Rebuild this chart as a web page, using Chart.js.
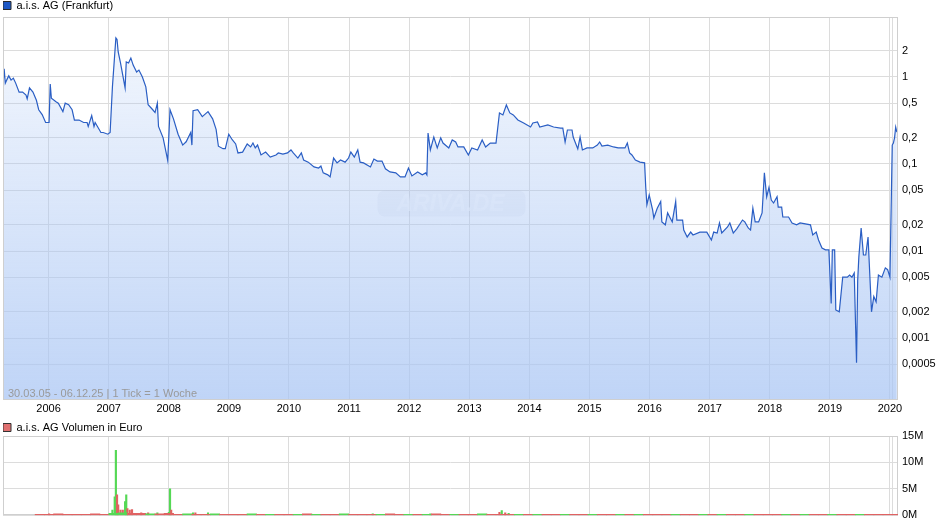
<!doctype html>
<html lang="de">
  <head>
    <meta charset="utf-8">
    <title>a.i.s. AG (Frankfurt)</title>
    <style>
      body { margin: 0; background: #fff; }
      #priceBox { position: absolute; left: 0; top: 0; width: 940px; height: 416px; }
      #volBox { position: absolute; left: 0; top: 422px; width: 940px; height: 104px; }
    </style>
  </head>
  <body>
    <div id="priceBox"><canvas id="priceChart"></canvas></div>
    <div id="volBox"><canvas id="volChart"></canvas></div>

    <script src="https://cdn.jsdelivr.net/npm/chart.js"></script>
    <script>
      // x axis = week index since 30.03.05 (1 Tick = 1 Woche)
      const weeks = [0,1,2,4,5,7,9,11,14,17,20,21,23,26,29,31,34,37,40,41,42,46,48,52,54,57,60,62,66,70,
        73,74,77,79,80,82,85,87,91,93,95,98,99,100,102,106,107,109,111,113,116,118,121,124,126,130,132,134,135,139,
        143,145,148,152,156,159,163,164,165,169,173,178,182,185,187,191,193,196,199,202,204,208,212,215,217,219,221,224,228,232,
        237,239,243,247,250,252,256,259,261,265,270,274,276,278,282,284,287,290,293,297,300,302,305,308,310,313,319,322,325,329,
        332,336,341,345,349,352,355,360,364,367,368,369,371,374,377,380,382,387,390,393,395,400,404,407,412,416,419,423,428,431,
        434,437,440,443,447,452,458,460,464,466,473,478,484,486,488,490,494,495,499,501,503,507,512,516,518,520,525,530,534,540,
        542,544,546,549,553,557,558,559,561,564,565,568,571,572,575,577,581,584,585,590,591,594,597,599,605,611,615,617,620,622,
        624,629,631,634,637,642,644,647,649,651,653,656,659,661,663,665,667,669,672,673,676,677,682,685,689,692,701,703,706,708,
        711,714,717,719,720,722,723,726,729,733,735,737,739,741,742,743,745,747,749,751,754,756,758,760,763,766,768,770,772,773,
        774,775,776];
      const prices = [0.81,1.24,0.85,0.97,1.03,0.92,0.97,0.85,0.67,0.67,0.62,0.56,0.75,0.67,0.54,0.42,0.37,0.30,0.30,0.83,
        0.57,0.52,0.50,0.40,0.50,0.48,0.42,0.32,0.32,0.30,0.30,0.27,0.36,0.27,0.30,0.27,0.23,0.23,0.22,0.23,
        0.77,2.81,2.7,1.94,1.45,0.75,1.49,1.45,1.65,1.37,1.14,1.20,1.0,0.77,0.48,0.42,0.39,0.50,0.27,0.20,
        0.11,0.42,0.33,0.22,0.165,0.18,0.23,0.165,0.41,0.42,0.35,0.40,0.33,0.25,0.16,0.15,0.15,0.22,0.19,0.17,
        0.134,0.137,0.17,0.157,0.174,0.153,0.165,0.127,0.137,0.12,0.127,0.134,0.13,0.134,0.145,0.134,0.117,0.134,0.111,0.105,
        0.0925,0.09,0.095,0.079,0.075,0.071,0.117,0.103,0.111,0.105,0.117,0.137,0.12,0.145,0.105,0.103,0.0925,0.114,0.108,0.108,
        0.088,0.081,0.079,0.071,0.071,0.09,0.073,0.081,0.075,0.079,0.075,0.227,0.145,0.204,0.153,0.20,0.174,0.153,0.189,0.179,
        0.157,0.157,0.127,0.153,0.145,0.189,0.157,0.174,0.174,0.386,0.366,0.477,0.386,0.366,0.321,0.296,0.266,0.296,0.304,0.266,
        0.281,0.266,0.259,0.259,0.179,0.246,0.246,0.204,0.149,0.204,0.145,0.153,0.153,0.165,0.179,0.161,0.165,0.157,0.153,0.153,
        0.174,0.134,0.127,0.111,0.105,0.103,0.054,0.034,0.044,0.0295,0.024,0.031,0.037,0.0216,0.02,0.0274,0.0216,0.037,0.0227,0.0227,
        0.0174,0.0145,0.0165,0.0153,0.0165,0.0165,0.0134,0.0165,0.0161,0.021,0.0161,0.0189,0.021,0.0161,0.018,0.0227,0.0216,0.0184,0.0174,0.031,
        0.0216,0.0216,0.0274,0.079,0.042,0.054,0.0385,0.0356,0.042,0.032,0.032,0.0246,0.0246,0.021,0.02,0.021,0.02,0.0153,0.0165,0.0134,
        0.0108,0.0103,0.0103,0.0025,0.0103,0.0103,0.0021,0.002,0.005,0.005,0.0053,0.005,0.0056,0.00052,0.0046,0.0085,0.0184,0.009,0.009,0.0145,
        0.002,0.003,0.0026,0.0053,0.005,0.0064,0.0061,0.005,0.165,0.174,0.2,0.266,0.233];

      const priceTicks = [0.0005, 0.001, 0.002, 0.005, 0.01, 0.02, 0.05, 0.1, 0.2, 0.5, 1, 2];
      const yearLabels = [2006, 2007, 2008, 2009, 2010, 2011, 2012, 2013, 2014, 2015, 2016, 2017, 2018, 2019, 2020];
      const extraGridWeeks = [772];

      // volume in Mio. Euro, larger trading weeks
      const volWeeks = [40,95,97,98,99,100,102,104,106,107,108,110,112,120,126,134,144,145,146,165,167,178,321,371,431,433,436,439];
      const volValues = [0.3,1.0,3.5,12.3,3.9,2.0,1.0,1.0,2.6,3.9,1.3,1.0,1.1,0.5,0.5,0.5,0.6,5.0,1.0,0.5,0.5,0.5,0.3,0.3,0.6,0.9,0.5,0.4];
      const volUp = 'rgggrrrrggrrrrrgggrgrgggrgrg';
      // small weekly volume, one value every 8 weeks from week 32
      const smallVolStart = 32, smallVolStep = 8;
      const smallVol = [0.2,0.2,0.3,0.2,0.2,0.2,0.3,0.2, 0.4,0.5,0.4,0.4,0.3,0.3,0.4,0.2,
        0.3,0.2,0.2,0.3,0.2,0.2,0.2,0.3, 0.2,0.2,0.2,0.2,0.2,0.3,0.2,0.2,
        0.2,0.3,0.2,0.2,0.2,0.2,0.3,0.2, 0.2,0.2,0.2,0.3,0.2,0.2,0.2,0.2,
        0.3,0.2,0.2,0.2,0.2,0.2,0.2,0.2, 0.2,0.2,0.2,0.2,0.2,0.2,0.2,0.2,
        0.2,0.2,0.2,0.2,0.2,0.2,0.2,0.2, 0.2,0.2,0.2,0.2,0.2,0.2,0.2,0.2,
        0.2,0.2,0.2,0.2,0.2,0.2,0.2,0.2, 0.2,0.2,0.2,0.2,0.2,0.2];
      const smallUp = 'rrrrrrrrggrrgrrrgrrgrrrgrgrrgrgrrgrrrgrrgrgrrgrrgrrrgrgrrgrrgrrgrgrrrgrrgrgrrgrrrgrgrrgrrgrr';

      const startDate = Date.UTC(2005, 2, 30);
      const weekOf = y => (Date.UTC(y, 0, 1) - startDate) / (7 * 864e5);
      const yearWeeks = yearLabels.map(weekOf);
      const gridWeeks = yearWeeks.concat(extraGridWeeks);

      Chart.defaults.font.family = '"Liberation Sans", Arial, sans-serif';
      Chart.defaults.font.size = 11;
      Chart.defaults.color = '#000';

      function drawFrame(chart) {
        const {ctx, chartArea: a} = chart;
        ctx.save();
        ctx.strokeStyle = '#cfcfcf';
        ctx.lineWidth = 1;
        ctx.strokeRect(Math.round(a.left) + 0.5, Math.round(a.top) + 0.5,
          Math.round(a.right - a.left) - 1, Math.round(a.bottom - a.top) - 1);
        ctx.restore();
      }
      const framePlugin = { id: 'frame', afterDatasetsDraw: drawFrame };
      const frameBehindPlugin = { id: 'frameBehind', beforeDatasetsDraw: drawFrame };

      const noteplugin = {
        id: 'notes',
        beforeDatasetsDraw(chart) {
          const {ctx, chartArea: a} = chart;
          const cx = (a.left + a.right) / 2, cy = (a.top + a.bottom) / 2 - 5;
          ctx.save();
          ctx.fillStyle = 'rgba(110,130,170,0.07)';
          ctx.beginPath();
          ctx.roundRect(cx - 73, cy - 13, 148, 26, 7);
          ctx.fill();
          ctx.font = 'italic bold 23px "Liberation Sans", Arial, sans-serif';
          ctx.textAlign = 'center';
          ctx.textBaseline = 'middle';
          ctx.fillStyle = 'rgba(255,255,255,0.6)';
          ctx.fillText('ARIVA.DE', cx, cy + 1);
          ctx.restore();
        },
        afterDatasetsDraw(chart) {
          const {ctx, chartArea: a} = chart;
          ctx.save();
          ctx.font = '11px "Liberation Sans", Arial, sans-serif';
          ctx.fillStyle = '#9a9a9a';
          ctx.textBaseline = 'alphabetic';
          ctx.fillText('30.03.05 - 06.12.25 | 1 Tick = 1 Woche', a.left + 5, a.bottom - 3);
          ctx.restore();
        }
      };

      const xScale = (showLabels) => ({
        type: 'linear', min: 0, max: 777, offset: false,
        afterBuildTicks: s => { s.ticks = gridWeeks.map(v => ({value: v})); },
        afterFit: s => { s.height = showLabels ? 16 : 0; },
        ticks: {
          display: showLabels, autoSkip: false, maxRotation: 0, padding: 2,
          callback: v => { const i = yearWeeks.indexOf(v); return i >= 0 ? String(yearLabels[i]) : ''; }
        },
        grid: { color: '#dcdcdc', drawTicks: false, offset: false },
        border: { display: false }
      });

      const priceChart = new Chart(document.getElementById('priceChart'), {
        type: 'line',
        data: {
          datasets: [{
            label: 'a.i.s. AG (Frankfurt)',
            data: weeks.map((w, i) => ({x: w, y: prices[i]})),
            borderColor: '#2a5ec4',
            borderWidth: 1.2,
            pointRadius: 0,
            tension: 0,
            fill: 'start',
            backgroundColor: ctx => {
              const a = ctx.chart.chartArea;
              if (!a) return 'rgba(170,198,244,0.4)';
              const g = ctx.chart.ctx.createLinearGradient(0, a.top, 0, a.bottom);
              g.addColorStop(0, 'rgba(170,198,244,0.12)');
              g.addColorStop(1, 'rgba(170,198,244,0.75)');
              return g;
            }
          }]
        },
        options: {
          responsive: true, maintainAspectRatio: false, animation: false,
          layout: { padding: { left: 3, right: 0, top: 0, bottom: 0 } },
          plugins: {
            legend: {
              align: 'start', maxHeight: 17,
              labels: {
                boxWidth: 8, boxHeight: 8, padding: 0, color: '#222',
                generateLabels: () => [{ text: 'a.i.s. AG (Frankfurt)', fillStyle: '#1d58c6', strokeStyle: '#2a2a2a', lineWidth: 1, hidden: false, datasetIndex: 0 }]
              }
            },
            tooltip: { enabled: false }
          },
          scales: {
            x: xScale(true),
            y: {
              type: 'logarithmic', position: 'right', min: 0.000194, max: 4.89,
              afterBuildTicks: s => { s.ticks = priceTicks.map(v => ({value: v})); },
              afterFit: s => { s.width = 42; },
              ticks: { padding: 4, callback: v => String(v).replace('.', ',') },
              grid: { color: '#dcdcdc', drawTicks: false },
              border: { display: false }
            }
          }
        },
        plugins: [noteplugin, framePlugin]
      });

      const red = '#e06262', green = '#55d855';
      const smallData = smallVol.map((v, i) => ({x: smallVolStart + i * smallVolStep, y: v * 1e6}));
      const smallColors = smallVol.map((v, i) => smallUp.charAt(i) === 'g' ? green : red);

      const volChart = new Chart(document.getElementById('volChart'), {
        type: 'bar',
        data: {
          datasets: [{
            label: 'klein',
            data: smallData,
            backgroundColor: smallColors,
            barThickness: 9.5,
            grouped: false
          }, {
            label: 'a.i.s. AG Volumen in Euro',
            data: volWeeks.map((w, i) => ({x: w, y: volValues[i] * 1e6})),
            backgroundColor: volWeeks.map((w, i) => volUp.charAt(i) === 'g' ? green : red),
            barThickness: 1.5,
            grouped: false
          }]
        },
        options: {
          responsive: true, maintainAspectRatio: false, animation: false,
          layout: { padding: { left: 3, right: 0, top: 0, bottom: 10 } },
          plugins: {
            legend: {
              align: 'start', maxHeight: 14,
              labels: {
                boxWidth: 8, boxHeight: 8, padding: 0, color: '#222',
                generateLabels: () => [{ text: 'a.i.s. AG Volumen in Euro', fillStyle: '#e07070', strokeStyle: '#333', lineWidth: 1, hidden: false, datasetIndex: 1 }]
              }
            },
            tooltip: { enabled: false }
          },
          scales: {
            x: xScale(false),
            y: {
              position: 'right', min: 0, max: 15e6,
              afterBuildTicks: s => { s.ticks = [0, 5e6, 10e6, 15e6].map(v => ({value: v})); },
              afterFit: s => { s.width = 42; },
              ticks: { padding: 4, callback: v => (v / 1e6) + 'M' },
              grid: { color: '#dcdcdc', drawTicks: false },
              border: { display: false }
            }
          }
        },
        plugins: [frameBehindPlugin]
      });
    </script>
  </body>
</html>
